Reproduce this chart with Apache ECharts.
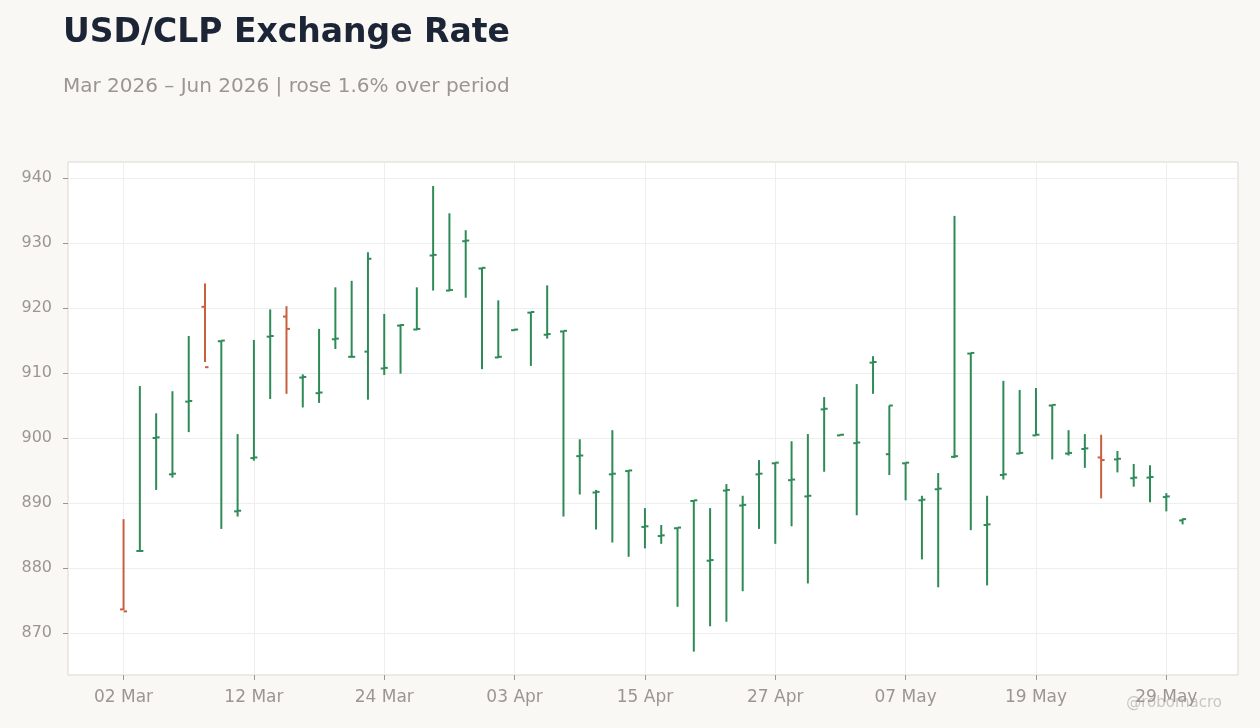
<!DOCTYPE html>
<html>
<head>
<meta charset="utf-8">
<script src="https://cdn.jsdelivr.net/npm/echarts@6/dist/echarts.min.js"></script>
<style>
html,body{margin:0;padding:0;background:#f9f8f5;}
#chart{width:1260px;height:728px;}
</style>
</head>
<body>
<div id="chart"></div>
<script>
const dates = [
 "2026-03-02","2026-03-03","2026-03-04","2026-03-05","2026-03-06","2026-03-09","2026-03-10","2026-03-11","2026-03-12","2026-03-13",
 "2026-03-16","2026-03-17","2026-03-18","2026-03-19","2026-03-20","2026-03-23","2026-03-24","2026-03-25","2026-03-26","2026-03-27",
 "2026-03-30","2026-03-31","2026-04-01","2026-04-02","2026-04-03","2026-04-06","2026-04-07","2026-04-08","2026-04-09","2026-04-10",
 "2026-04-13","2026-04-14","2026-04-15","2026-04-16","2026-04-17","2026-04-20","2026-04-21","2026-04-22","2026-04-23","2026-04-24",
 "2026-04-27","2026-04-28","2026-04-29","2026-04-30","2026-05-01","2026-05-04","2026-05-05","2026-05-06","2026-05-07","2026-05-08",
 "2026-05-11","2026-05-12","2026-05-13","2026-05-14","2026-05-15","2026-05-18","2026-05-19","2026-05-20","2026-05-21","2026-05-22",
 "2026-05-25","2026-05-26","2026-05-27","2026-05-28","2026-05-29","2026-06-01"
];
const openVals = [
 873.6,882.6,900.0,894.4,905.6,920.2,914.9,888.7,896.9,915.6,
 918.7,909.3,906.9,915.2,912.5,913.3,910.7,917.3,916.7,928.1,
 922.7,930.3,926.1,912.4,916.6,919.3,915.9,916.4,897.2,891.6,
 894.4,894.9,886.3,884.9,886.1,890.3,881.1,891.9,889.6,894.4,
 896.1,893.5,891.0,904.4,900.4,899.2,911.6,897.5,896.1,890.4,
 892.1,897.1,913.0,886.6,894.3,897.6,900.4,905.0,897.6,898.3,
 897.0,896.7,893.8,893.9,890.9,887.3
];
const highVals = [
 887.5,908.0,903.8,907.2,915.7,923.8,915.0,900.6,915.1,919.8,
 920.3,909.8,916.8,923.2,924.2,928.6,919.1,917.5,923.2,938.8,
 934.6,932.0,926.2,921.2,916.8,919.4,923.5,916.5,899.8,892.0,
 901.2,895.0,889.2,886.6,886.2,890.4,889.2,892.9,891.1,896.6,
 896.2,899.5,900.6,906.3,900.6,908.3,912.6,905.0,896.2,891.1,
 894.6,934.2,913.1,891.1,908.8,907.4,907.7,905.1,901.2,900.6,
 900.5,898.0,896.0,895.8,891.5,887.6
];
const lowVals = [
 873.5,882.5,892.0,893.9,900.9,911.7,886.0,887.9,896.5,906.0,
 906.8,904.7,905.4,913.7,912.4,905.9,909.7,909.9,916.6,922.7,
 922.6,921.6,910.6,912.3,916.5,911.1,915.3,887.9,891.3,885.9,
 883.9,881.7,883.0,883.7,874.0,867.1,871.0,871.7,876.4,886.0,
 883.7,886.4,877.6,894.8,900.4,888.1,906.8,894.3,890.4,881.3,
 877.0,896.9,885.8,877.3,893.6,897.5,900.4,896.7,897.3,895.4,
 890.7,894.7,892.5,890.1,888.7,886.7
];
const closeVals = [
 873.3,882.6,900.1,894.5,905.7,910.9,915.0,888.8,897.0,915.7,
 916.8,909.4,907.0,915.3,912.5,927.6,910.8,917.4,916.8,928.2,
 922.8,930.4,926.2,912.5,916.7,919.4,916.0,916.5,897.3,891.7,
 894.5,895.0,886.4,885.0,886.2,890.4,881.2,892.0,889.7,894.5,
 896.2,893.6,891.1,904.5,900.5,899.3,911.7,905.0,896.2,890.5,
 892.2,897.2,913.1,886.7,894.4,897.7,900.5,905.1,897.7,898.4,
 896.6,896.8,893.9,894.0,891.0,887.5
];
const xTickIdx = [0,8,16,24,32,40,48,56,64];
const yTicks = [870,880,890,900,910,920,930,940];
const months = ["Jan","Feb","Mar","Apr","May","Jun","Jul","Aug","Sep","Oct","Nov","Dec"];

const UP = '#2e8b57', DOWN = '#c8603f';
const data = dates.map((d,i)=>[i, openVals[i], highVals[i], lowVals[i], closeVals[i]]);
function fmtDate(i){
  const d = dates[Math.round(i)]; if(!d) return '';
  const p = d.split('-');
  return p[2] + ' ' + months[parseInt(p[1],10)-1];
}
const FONT = 'DejaVu Sans';
const chart = echarts.init(document.getElementById('chart'));
chart.setOption({
  backgroundColor:'#f9f8f5',
  animation:false,
  title:[
    {text:'USD/CLP Exchange Rate', left:58, top:12,
     textStyle:{fontFamily:FONT,fontSize:33,fontWeight:'bold',color:'#1c2536'}},
    {text:'Mar 2026 – Jun 2026 | rose 1.6% over period', left:58, top:72,
     textStyle:{fontFamily:FONT,fontSize:20,fontWeight:'normal',color:'#9b9690'}}
  ],
  graphic:[
    {type:'text', right:38, top:696, style:{text:'@robomacro', fontFamily:FONT, fontSize:15, fill:'#c9c6c2'}}
  ],
  grid:{left:68, right:22, top:162, bottom:53, show:true, backgroundColor:'#ffffff', borderColor:'#ddd7cf', borderWidth:1, containLabel:false},
  xAxis:{
    type:'value', min:-3.41, max:68.4,
    axisLine:{show:false, onZero:false},
    axisTick:{show:true, length:5, lineStyle:{color:'#9b9690'}, customValues:xTickIdx},
    axisLabel:{customValues:xTickIdx, formatter:(v)=>fmtDate(v), fontFamily:FONT, fontSize:17, color:'#9b9690', margin:14},
    splitLine:{show:true, lineStyle:{color:'#eeeeee', width:1}}
  },
  yAxis:{
    type:'value', min:863.5, max:942.5,
    axisLine:{show:false, onZero:false},
    axisTick:{show:true, length:5, lineStyle:{color:'#9b9690'}, customValues:yTicks},
    axisLabel:{customValues:yTicks, fontFamily:FONT, fontSize:16, color:'#9b9690', margin:16},
    splitLine:{show:true, lineStyle:{color:'#eeeeee', width:1}}
  },
  series:[{
    type:'custom',
    data:data,
    encode:{x:0, y:[1,2,3,4]},
    renderItem:function(params, api){
      const i = api.value(0);
      const o = api.value(1), h = api.value(2), l = api.value(3), c = api.value(4);
      const pH = api.coord([i,h]), pL = api.coord([i,l]), pO = api.coord([i,o]), pC = api.coord([i,c]);
      const x = pH[0];
      const col = c >= o ? UP : DOWN;
      const st = {stroke:col, lineWidth:2};
      return {type:'group', children:[
        {type:'line', shape:{x1:x, y1:pH[1], x2:x, y2:pL[1]}, style:st},
        {type:'line', shape:{x1:x-3.5, y1:pO[1], x2:x, y2:pO[1]}, style:st},
        {type:'line', shape:{x1:x, y1:pC[1], x2:x+3.5, y2:pC[1]}, style:st}
      ]};
    }
  }]
});
</script>
</body>
</html>
